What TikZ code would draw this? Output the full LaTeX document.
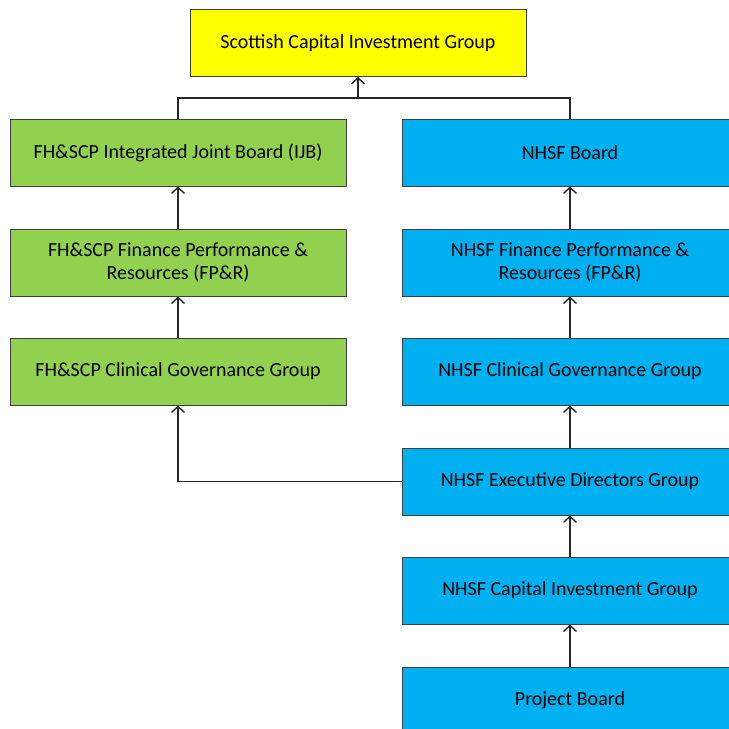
\documentclass[tikz,border=0pt]{standalone}
\usepackage{fontspec}
\setmainfont{Carlito}
\usetikzlibrary{arrows.meta}
\definecolor{gfill}{HTML}{92D050}
\definecolor{bfill}{HTML}{00B0F0}
\definecolor{yfill}{HTML}{FFFF00}
\definecolor{edge}{HTML}{3F3F3F}
\begin{document}
\begin{tikzpicture}[x=1pt,y=-1pt,
  box/.style={draw=edge,line width=1pt,minimum width=336pt,minimum height=67pt,
    align=center,font=\fontsize{20}{22.5}\selectfont,inner sep=0pt},
  gbox/.style={box,fill=gfill},
  bbox/.style={box,fill=bfill},
  ybox/.style={box,fill=yfill},
  conn/.style={draw=black!85,line width=1.4pt},
  arr/.style={conn,-{Straight Barb[length=6pt,width=13pt,line width=1.4pt]}}]
\useasboundingbox (0,0) rectangle (729,729);
\clip (0,0) rectangle (729,729);
\node[ybox] (scig) at (358,43) {Scottish Capital Investment Group};
\node[gbox] (ijb) at (178,152.5) {FH\&SCP Integrated Joint Board (IJB)};
\node[gbox] (gfpr) at (178,262.5) {FH\&SCP Finance Performance \&\\Resources (FP\&R)};
\node[gbox] (gcgg) at (178,371.5) {FH\&SCP Clinical Governance Group};
\node[bbox] (nb) at (570,152.5) {NHSF Board};
\node[bbox] (bfpr) at (570,262.5) {NHSF Finance Performance \&\\Resources (FP\&R)};
\node[bbox] (bcgg) at (570,371.5) {NHSF Clinical Governance Group};
\node[bbox] (edg) at (570,481.5) {NHSF Executive Directors Group};
\node[bbox] (cig) at (570,590.5) {NHSF Capital Investment Group};
\node[bbox] (pb) at (570,700.5) {Project Board};
\coordinate (jl) at (178,98);
\coordinate (jm) at (358,98);
\coordinate (jr) at (570,98);
\coordinate (ec) at (178,481.5);
\draw[conn] (ijb.north) -- (jl) -- (jr) -- (nb.north);
\draw[arr] (jm) -- (scig.south);
\draw[arr] (gfpr) -- (ijb);
\draw[arr] (gcgg) -- (gfpr);
\draw[arr] (bfpr) -- (nb);
\draw[arr] (bcgg) -- (bfpr);
\draw[arr] (edg) -- (bcgg);
\draw[arr] (cig) -- (edg);
\draw[arr] (pb) -- (cig);
\draw[arr] (edg.west) -- (ec) -- (gcgg.south);
\end{tikzpicture}
\end{document}
